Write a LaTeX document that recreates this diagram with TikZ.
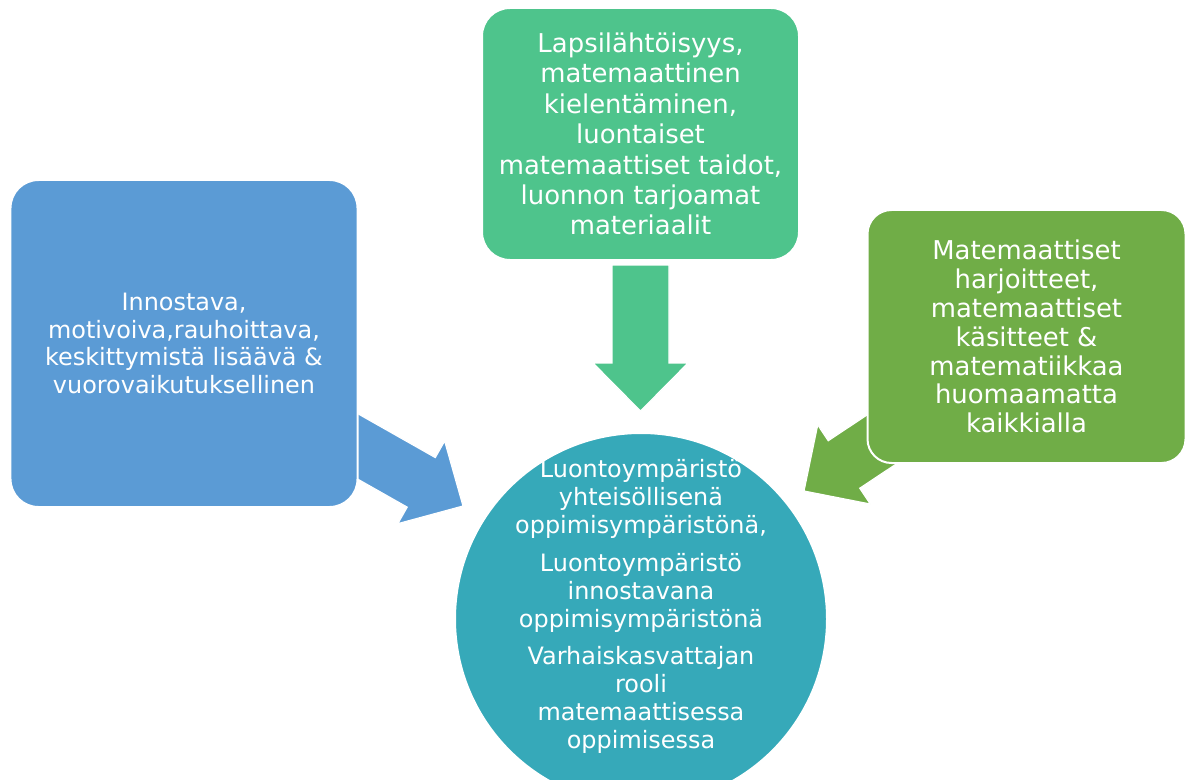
\documentclass[tikz,border=0pt]{standalone}
\usepackage{fontspec}
\setmainfont{DejaVu Sans}
\usetikzlibrary{calc,backgrounds}

\definecolor{leftblue}{RGB}{91,155,213}
\definecolor{topgreen}{RGB}{78,196,140}
\definecolor{rightgreen}{RGB}{112,173,71}
\definecolor{hubteal}{RGB}{54,169,185}

% block arrow: colour, start, tip
\newcommand{\blockarrow}[3]{%
    \coordinate (hb) at ($(#3)!48bp!(#2)$);
    \filldraw[fill=#1, draw=white, line width=1.2bp]
        ($(#2)!28.5bp!90:(#3)$) -- ($(hb)!28.5bp!90:(#3)$) -- ($(hb)!47.5bp!90:(#3)$)
        -- (#3) -- ($(hb)!47.5bp!-90:(#3)$) -- ($(hb)!28.5bp!-90:(#3)$)
        -- ($(#2)!28.5bp!-90:(#3)$) -- cycle;
}

\begin{document}
\begin{tikzpicture}[x=1bp, y=-1bp,
    topicbox/.style={draw=white, line width=2bp, rounded corners=28bp,
        inner sep=0pt, text=white, align=center},
    hub/.style={draw=white, line width=2bp, circle, fill=hubteal,
        minimum size=372bp, inner sep=0pt}]
    \useasboundingbox (0,0) rectangle (1192,780);
    \clip (0,0) rectangle (1192,780);

    \node[topicbox, fill=leftblue, minimum width=347bp, minimum height=327bp,
        font=\fontsize{24}{28}\selectfont] (left) at (184,343.5)
        {Innostava,\\ motivoiva,rauhoittava,\\ keskittymistä lisäävä \&\\ vuorovaikutuksellinen};
    \node[topicbox, fill=topgreen, minimum width=317bp, minimum height=252bp,
        font=\fontsize{26}{30.5}\selectfont] (top) at (640.5,134)
        {Lapsilähtöisyys,\\ matemaattinen\\ kielentäminen,\\ luontaiset\\ matemaattiset taidot,\\ luonnon tarjoamat\\ materiaalit};
    \node[topicbox, fill=rightgreen, minimum width=318bp, minimum height=253bp,
        rounded corners=24bp, font=\fontsize{26}{29}\selectfont] (right) at (1026.5,336.5)
        {Matemaattiset\\ harjoitteet,\\ matemaattiset\\ käsitteet \&\\ matematiikkaa\\ huomaamatta\\ kaikkialla};

    \node[hub] (hub) at (641,619) {};
    \node[text=white, align=center, inner sep=0pt, font=\fontsize{24}{28}\selectfont]
        (hubtext) at ($(hub.center)+(0,-12.5)$)
        {Luontoympäristö\\ yhteisöllisenä\\ oppimisympäristönä,\\[10bp]
         Luontoympäristö\\ innostavana\\ oppimisympäristönä\\[10bp]
         Varhaiskasvattajan\\ rooli\\ matemaattisessa\\ oppimisessa};

    % arrows into the hub
    \coordinate (lefttip) at (463,506);
    \coordinate (toptip) at (640.5,411);
    \coordinate (righttip) at (804,491);
    \begin{pgfonlayer}{background}
        \blockarrow{leftblue}{$(left.center)+(136,81.5)$}{lefttip}
        \blockarrow{rightgreen}{$(right.center)+(-115.5,83.5)$}{righttip}
    \end{pgfonlayer}
    \blockarrow{topgreen}{$(top.south)+(0,4)$}{toptip}
\end{tikzpicture}
\end{document}
